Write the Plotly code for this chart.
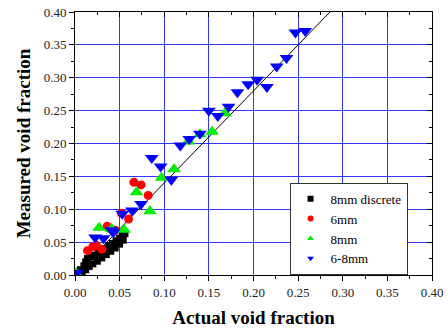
import plotly.graph_objects as go

# 8mm discrete
disc_x = [0.003, 0.008, 0.012, 0.016, 0.020, 0.025, 0.030, 0.035, 0.040, 0.045, 0.050, 0.054,
          0.006, 0.010, 0.012, 0.014, 0.018, 0.022, 0.026, 0.030, 0.034, 0.038, 0.042, 0.046, 0.050, 0.053, 0.056]
disc_y = [0.002, 0.004, 0.008, 0.013, 0.017, 0.021, 0.026, 0.031, 0.036, 0.041, 0.047, 0.053,
          0.008, 0.014, 0.020, 0.025, 0.028, 0.030, 0.033, 0.036, 0.040, 0.044, 0.048, 0.052, 0.056, 0.060, 0.063]
# 6mm
mm6_x = [0.014, 0.020, 0.024, 0.030, 0.036, 0.039, 0.045, 0.052, 0.060, 0.066, 0.074, 0.082]
mm6_y = [0.037, 0.043, 0.045, 0.039, 0.074, 0.071, 0.068, 0.094, 0.085, 0.141, 0.137, 0.121]
# 8mm
mm8_x = [0.001, 0.027, 0.041, 0.055, 0.069, 0.084, 0.097, 0.111, 0.127, 0.140, 0.1536, 0.168]
mm8_y = [0.003, 0.072, 0.070, 0.069, 0.126, 0.097, 0.148, 0.161, 0.203, 0.214, 0.218, 0.246]
# 6-8mm
mix_x = [0.002, 0.0225, 0.032, 0.041, 0.043, 0.053, 0.064, 0.074, 0.086, 0.096, 0.108, 0.118,
         0.128, 0.140, 0.150, 0.160, 0.172, 0.182, 0.194, 0.204, 0.215, 0.226, 0.237, 0.247, 0.258]
mix_y = [0.003, 0.057, 0.056, 0.068, 0.065, 0.093, 0.098, 0.108, 0.178, 0.165, 0.145, 0.197,
         0.207, 0.215, 0.250, 0.242, 0.256, 0.278, 0.290, 0.297, 0.286, 0.317, 0.330, 0.369, 0.371]
# reference line
line_x = [0.0, 0.2857]
line_y = [0.0, 0.40]

tick_vals = [0.00, 0.05, 0.10, 0.15, 0.20, 0.25, 0.30, 0.35, 0.40]
tick_text = ["0.00", "0.05", "0.10", "0.15", "0.20", "0.25", "0.30", "0.35", "0.40"]

SERIF = "Liberation Serif"

fig = go.Figure()
fig.add_trace(go.Scatter(x=line_x, y=line_y, mode="lines", line=dict(color="black", width=1),
                         showlegend=False, hoverinfo="skip"))

series = [
    ("8mm discrete", disc_x, disc_y, "square", "black", 7),
    ("6mm", mm6_x, mm6_y, "circle", "#ff0000", 9),
    ("8mm", mm8_x, mm8_y, "triangle-up", "#00ee00", 12),
    ("6-8mm", mix_x, mix_y, "triangle-down", "#0000ff", 12),
]
for name, xs, ys, sym, col, sz in series:
    fig.add_trace(go.Scatter(x=xs, y=ys, mode="markers", name=name, showlegend=False,
                             marker=dict(symbol=sym, color=col, size=sz, line=dict(width=0))))
for name, xs, ys, sym, col, sz in series:
    fig.add_trace(go.Scatter(x=[None], y=[None], mode="markers", name=name, showlegend=True,
                             marker=dict(symbol=sym, color=col, size=6, line=dict(width=0))))

# mirror axes with inward ticks (top / right)
fig.add_trace(go.Scatter(x=[None], y=[None], xaxis="x2", yaxis="y2", showlegend=False))

axis_common = dict(range=[0, 0.40], tickvals=tick_vals, ticktext=tick_text, automargin=False,
                   showline=True, linecolor="black", linewidth=1,
                   gridcolor="rgba(30,30,255,0.9)", gridwidth=1.3, zeroline=False,
                   ticks="outside", ticklen=5, tickcolor="black", tickwidth=1,
                   ticklabeloverflow="allow",
                   tickfont=dict(family=SERIF, size=13, color="#222"),
                   minor=dict(dtick=0.025, tick0=0, ticks="outside", ticklen=3, tickcolor="black",
                              showgrid=False))

mirror_common = dict(range=[0, 0.40], tickvals=tick_vals, showticklabels=False, automargin=False,
                     ticks="inside", ticklen=5, tickcolor="black", showgrid=False, zeroline=False,
                     showline=True, linecolor="black",
                     minor=dict(dtick=0.025, tick0=0, ticks="inside", ticklen=3, tickcolor="black",
                                showgrid=False))

fig.update_layout(
    width=448, height=331,
    margin=dict(l=75, r=16, t=12, b=56),
    paper_bgcolor="white", plot_bgcolor="white",
    font=dict(family=SERIF),
    xaxis=dict(**axis_common,
               title=dict(text="<b>Actual void fraction</b>", font=dict(family=SERIF, size=19, color="black"),
                          standoff=12)),
    yaxis=dict(**axis_common,
               title=dict(text="<b>Measured void fraction</b>", font=dict(family=SERIF, size=19, color="black"),
                          standoff=8)),
    xaxis2=dict(overlaying="x", side="top", **mirror_common),
    yaxis2=dict(overlaying="y", side="right", **mirror_common),
    legend=dict(x=0.601, y=0.351, xanchor="left", yanchor="top",
                bgcolor="white", bordercolor="#333", borderwidth=1,
                font=dict(family=SERIF, size=13, color="black"),
                itemsizing="trace", tracegroupgap=0),
)

fig.write_html("out.html", config={"displayModeBar": False},
               post_script="document.body.style.margin='0';document.body.style.overflow='hidden';")
